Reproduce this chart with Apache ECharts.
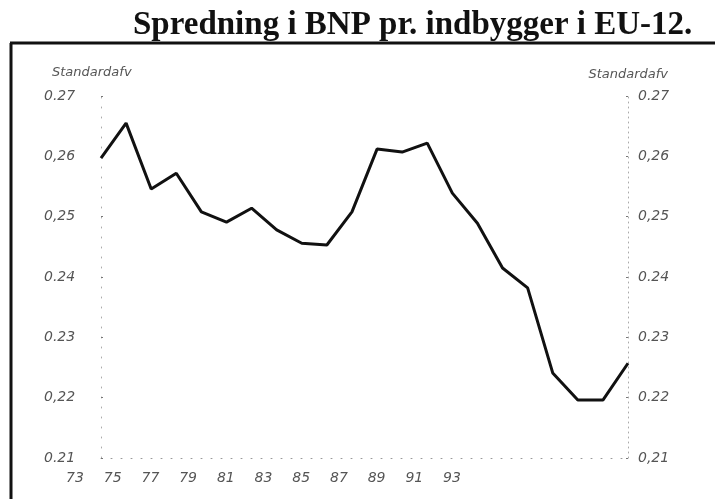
<!DOCTYPE html>
<html>
<head>
<meta charset="utf-8">
<title>Spredning i BNP pr. indbygger i EU-12</title>
<script src="https://cdn.jsdelivr.net/npm/echarts@6/dist/echarts.min.js"></script>
<style>
  html, body { margin: 0; padding: 0; background: #fff; }
  #chart { width: 715px; height: 499px; }
</style>
</head>
<body>
<div id="chart"></div>
<script>
// years 1973-1994, one point per year
const years = ['1973', '1974', '1975', '1976', '1977', '1978', '1979', '1980', '1981', '1982', '1983',
  '1984', '1985', '1986', '1987', '1988', '1989', '1990', '1991', '1992', '1993', '1994'];
const spread = [0.2597, 0.2655, 0.2546, 0.2572, 0.2508, 0.2491, 0.2514, 0.2478, 0.2456, 0.2453, 0.2508,
  0.2612, 0.2607, 0.2622, 0.2539, 0.2489, 0.2415, 0.2382, 0.2241, 0.2196, 0.2196, 0.2257];

// tick labels as printed (the scan mixes comma and point)
const xTickLabels = ['73', '75', '77', '79', '81', '83', '85', '87', '89', '91', '93'];
const leftTickLabels = ['0.21', '0,22', '0.23', '0.24', '0,25', '0,26', '0.27'];
const rightTickLabels = ['0,21', '0.22', '0.23', '0.24', '0,25', '0,26', '0.27'];
const yMin = 0.21;
const yMax = 0.27;

const titleText = 'Spredning i BNP pr. indbygger i EU-12.';
const axisName = 'Standardafv';

const labelFont = {
  color: '#555',
  fontSize: 14,
  fontStyle: 'italic',
  fontFamily: 'DejaVu Sans'
};

const tickIndex = v => Math.round((v - yMin) / 0.01);

const chart = echarts.init(document.getElementById('chart'));

chart.setOption({
  animation: false,
  grid: [
    { left: 101, right: 87, top: 96, bottom: 41 },
    // separate strip for the year labels, which sit left of the data in the original
    { left: 75, right: 263, top: 96, bottom: 41 }
  ],
  xAxis: [
    {
      type: 'category',
      gridIndex: 0,
      data: years,
      boundaryGap: false,
      axisLine: { show: true, lineStyle: { color: '#999', type: [1, 9], width: 1 } },
      axisTick: { show: false },
      axisLabel: { show: false }
    },
    {
      type: 'category',
      gridIndex: 1,
      data: xTickLabels,
      boundaryGap: false,
      axisLine: { show: false },
      axisTick: { show: false },
      axisLabel: Object.assign({ margin: 13, interval: 0 }, labelFont)
    }
  ],
  yAxis: [
    {
      type: 'value',
      gridIndex: 0,
      min: yMin,
      max: yMax,
      interval: 0.01,
      splitLine: { show: false },
      axisLine: { show: true, lineStyle: { color: '#aaa', type: [1, 9], width: 1 } },
      axisTick: { show: true, length: 2, inside: true, lineStyle: { color: '#777' } },
      axisLabel: Object.assign({
        align: 'left',
        margin: 57,
        formatter: v => leftTickLabels[tickIndex(v)]
      }, labelFont)
    },
    {
      type: 'value',
      gridIndex: 0,
      position: 'right',
      min: yMin,
      max: yMax,
      interval: 0.01,
      splitLine: { show: false },
      axisLine: { show: true, lineStyle: { color: '#aaa', type: [1, 4], width: 1 } },
      axisTick: { show: true, length: 2, inside: true, lineStyle: { color: '#777' } },
      axisLabel: Object.assign({
        align: 'left',
        margin: 10,
        formatter: v => rightTickLabels[tickIndex(v)]
      }, labelFont)
    },
    {
      type: 'value',
      gridIndex: 1,
      show: false
    }
  ],
  series: [
    {
      type: 'line',
      xAxisIndex: 0,
      yAxisIndex: 0,
      data: spread,
      showSymbol: false,
      lineStyle: { color: '#111', width: 3 },
      silent: true
    }
  ],
  graphic: [
    {
      type: 'text',
      left: 133,
      top: 9,
      style: {
        text: titleText,
        fill: '#111',
        font: 'bold 33px "Liberation Serif"'
      }
    },
    {
      type: 'text',
      x: 52,
      y: 73,
      style: {
        text: axisName,
        fill: '#555',
        font: 'italic 13px "DejaVu Sans"',
        align: 'left',
        verticalAlign: 'middle'
      }
    },
    {
      type: 'text',
      x: 668,
      y: 75,
      style: {
        text: axisName,
        fill: '#555',
        font: 'italic 13px "DejaVu Sans"',
        align: 'right',
        verticalAlign: 'middle'
      }
    },
    {
      type: 'line',
      shape: { x1: 10, y1: 43, x2: 715, y2: 43 },
      style: { stroke: '#111', lineWidth: 3 }
    },
    {
      type: 'line',
      shape: { x1: 11, y1: 43, x2: 11, y2: 499 },
      style: { stroke: '#111', lineWidth: 3 }
    }
  ]
});

window.addEventListener('resize', () => chart.resize());
</script>
</body>
</html>
